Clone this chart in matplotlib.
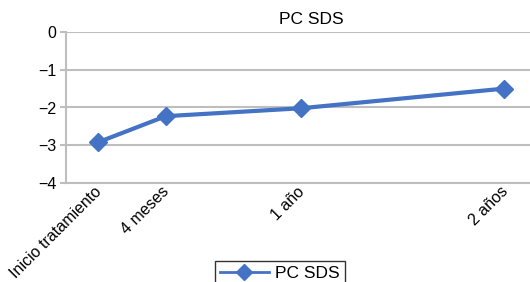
import matplotlib
matplotlib.use("Agg")
import matplotlib.pyplot as plt
from matplotlib.lines import Line2D
from matplotlib.transforms import ScaledTranslation

plt.rcParams['font.family'] = ['Liberation Sans', 'DejaVu Sans']

categories = ["Inicio tratamiento", "4 meses", "1 año", "2 años"]
months = [0, 4, 12, 24]
pc_sds = [-2.92, -2.23, -2.02, -1.50]
yticks = [0, -1, -2, -3, -4]
ytick_labels = ["0", "\u22121", "\u22122", "\u22123", "\u22124"]

color = "#4472C4"
grid_c = "#BEBEBE"

fig = plt.figure(figsize=(5.3, 2.82), dpi=100)
ax = fig.add_axes([66/530, 1-183/282, 1-66/530 + 0.002, (183-32)/282])
ax.plot(months, pc_sds, color=color, lw=3, marker="D", ms=9, mec=color, mfc=color,
        zorder=3, clip_on=False)
ax.set_xlim(-1.9, 25.6)
ax.set_ylim(-4, 0)
ax.set_yticks(yticks)
ax.set_yticklabels(ytick_labels, fontsize=11.5)
ax.set_xticks(months)
ax.set_xticklabels(categories, rotation=45, ha="right", va="top", rotation_mode="anchor", fontsize=11.5)
ax.tick_params(axis="x", length=0, pad=2)
ax.tick_params(axis="y", length=4, color=grid_c, width=1.5, pad=3)
offset = ScaledTranslation(-0.04, 0.02, fig.dpi_scale_trans)
for lab in ax.get_xticklabels():
    lab.set_transform(lab.get_transform() + offset)
ax.grid(axis="y", color=grid_c, lw=1.5)
ax.set_axisbelow(True)
for s in ["top", "right"]:
    ax.spines[s].set_visible(False)
for s in ["left", "bottom"]:
    ax.spines[s].set_color(grid_c)
    ax.spines[s].set_linewidth(1.5)

fig.text(311/530, 1-20/282, "PC SDS", fontsize=12.5, ha="center", va="center")

handle = Line2D([], [], color=color, lw=2, marker="D", ms=8, mec=color, mfc=color)
leg = fig.legend([handle], ["PC SDS"], loc="upper center", bbox_to_anchor=(280/530, 1-261/282),
                 frameon=True, fontsize=12.5, fancybox=False, borderpad=0.3, handlelength=2.8,
                 handletextpad=0.4, borderaxespad=0)
leg.get_frame().set_edgecolor("black")
leg.get_frame().set_linewidth(1)

fig.savefig("out.png", dpi=100)
